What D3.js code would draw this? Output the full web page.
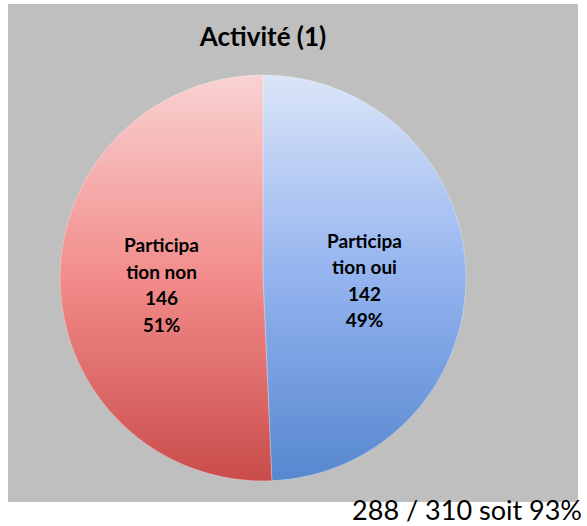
<!DOCTYPE html>
<html><head><meta charset="utf-8">
<script src="https://cdn.jsdelivr.net/npm/d3@7"></script>
<style>body{margin:0;background:#fff;}svg{display:block;font-family:Lato,"Open Sans",sans-serif;}</style>
</head><body>
<svg id="c" width="587" height="526"></svg>
<script>
const categories = ["Participation oui", "Participation non"];
const labelLines = [["Participa","tion oui"],["Participa","tion non"]];
const values = [142, 146];
const percents = ["49%", "51%"];
const title = "Activité (1)";
const footer = "288 / 310 soit 93%";

const svg = d3.select("#c");
svg.append("rect").attr("x",8).attr("y",4).attr("width",570).attr("height",498).attr("fill","#bfbfbf");

const defs = svg.append("defs");
const grads = [
  ["gBlue", ["#dbe5f8","#93b3ef","#5687cf"]],
  ["gRed", ["#f9d2d2","#f28c8a","#c94c4a"]]
];
const cx = 263, cy = 278, r = 203;
grads.forEach(([id, cols]) => {
  const g = defs.append("linearGradient").attr("id", id)
    .attr("gradientUnits","userSpaceOnUse")
    .attr("x1", 0).attr("y1", -r).attr("x2", 0).attr("y2", r);
  cols.forEach((c,i)=> g.append("stop").attr("offset", i/(cols.length-1)).attr("stop-color", c));
});

const pie = d3.pie().sort(null).value(d=>d);
const arcs = pie(values);
const arc = d3.arc().innerRadius(0).outerRadius(r);
const g = svg.append("g").attr("transform",`translate(${cx},${cy})`);
g.selectAll("path").data(arcs).enter().append("path")
  .attr("d", arc)
  .attr("fill", (d,i)=>`url(#${grads[i][0]})`)
  .attr("stroke","rgba(255,255,255,0.4)").attr("stroke-width",0.7);

const labelArc = d3.arc().innerRadius(r*0.5).outerRadius(r*0.5);
arcs.forEach((d,i)=>{
  const [x,y] = labelArc.centroid(d);
  const lines = [...labelLines[i], String(values[i]), percents[i]];
  const t = g.append("text").attr("text-anchor","middle")
    .attr("font-weight","bold").attr("font-size",19).attr("fill","#000");
  lines.forEach((l,k)=>{
    t.append("tspan").attr("x", x).attr("y", y - 35 + k*26.5 + 7).text(l);
  });
});

svg.append("text").attr("x",263).attr("y",46).attr("text-anchor","middle")
  .attr("font-weight","bold").attr("font-size",26).text(title);
svg.append("text").attr("x",582).attr("y",520).attr("text-anchor","end")
  .attr("font-size",27).text(footer);
</script>
</body></html>
